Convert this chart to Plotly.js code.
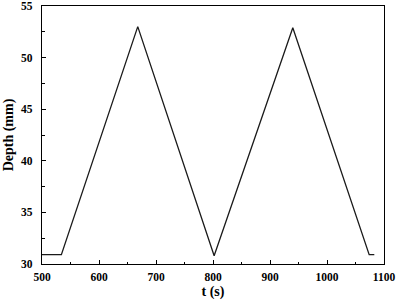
<!DOCTYPE html>
<html>
<head>
<meta charset="utf-8">
<script src="https://cdn.plot.ly/plotly-3.0.1.min.js"></script>
<style>html,body{margin:0;padding:0;background:#fff;}#chart{width:397px;height:300px;}</style>
</head>
<body>
<div id="chart"></div>
<script>
const timeS = [500, 534, 668, 802, 940, 1074, 1083];
const depthMm = [30.9, 30.9, 53.0, 30.8, 52.9, 30.9, 30.9];
const xTitle = 't (s)';
const yTitle = 'Depth (mm)';

const fontFam = '"Liberation Serif", "Times New Roman", serif';
const trace = {
  x: timeS, y: depthMm, type: 'scatter', mode: 'lines',
  line: {color: '#1a1a1a', width: 1.3}, hoverinfo: 'skip'
};
const axisCommon = {
  showline: true, linecolor: '#000', linewidth: 1.3, mirror: true,
  ticks: 'inside', ticklen: 4, tickwidth: 1, tickcolor: '#000',
  showgrid: false, zeroline: false, ticklabeloverflow: 'allow',
  tickfont: {family: fontFam, size: 11.5, color: '#000', weight: 'bold'}
};
const layout = {
  width: 397, height: 300,
  margin: {l: 42, r: 13, t: 6, b: 36},
  paper_bgcolor: '#fff', plot_bgcolor: '#fff',
  showlegend: false,
  xaxis: Object.assign({}, axisCommon, {
    range: [500, 1100], dtick: 100, tick0: 500,
    minor: {dtick: 50, ticks: 'inside', ticklen: 2.5, tickcolor: '#000', tickwidth: 1},
    ticklabelstandoff: 2,
    title: {text: xTitle, font: {family: fontFam, size: 14, color: '#000', weight: 'bold'}, standoff: 5}
  }),
  yaxis: Object.assign({}, axisCommon, {
    range: [30, 55], dtick: 5, tick0: 30,
    minor: {dtick: 2.5, ticks: 'inside', ticklen: 2.5, tickcolor: '#000', tickwidth: 1},
    ticklabelstandoff: 6,
    title: {text: yTitle, font: {family: fontFam, size: 14, color: '#000', weight: 'bold'}, standoff: 4}
  })
};
Plotly.newPlot('chart', [trace], layout, {staticPlot: true, displayModeBar: false});
</script>
</body>
</html>
